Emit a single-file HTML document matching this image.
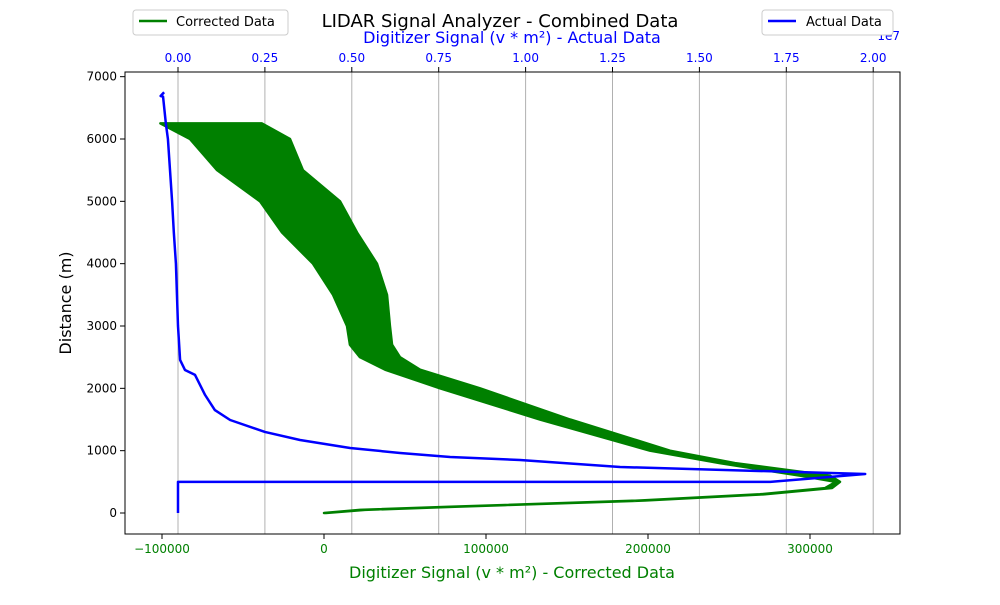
<!DOCTYPE html>
<html><head><meta charset="utf-8"><style>
body{margin:0;background:#fff;font-family:"Liberation Sans","DejaVu Sans",sans-serif}
</style></head><body>
<svg id="chart" width="1000" height="600" xmlns="http://www.w3.org/2000/svg" font-family="DejaVu Sans, Liberation Sans, sans-serif">
<rect width="1000" height="600" fill="#fff"/>
<g id="grid"></g>
<g id="series"></g>
<rect x="125" y="72" width="775" height="462" fill="none" stroke="#000" stroke-width="1"/>
<g id="axes" font-size="12"></g>
<text x="500" y="27" text-anchor="middle" font-size="18">LIDAR Signal Analyzer - Combined Data</text>
<text x="512" y="43" text-anchor="middle" font-size="16" fill="#0000ff">Digitizer Signal (v * m²) - Actual Data</text>
<text x="512" y="578" text-anchor="middle" font-size="16" fill="#008000">Digitizer Signal (v * m²) - Corrected Data</text>
<text x="71" y="303" text-anchor="middle" font-size="16" transform="rotate(-90 71 303)">Distance (m)</text>
<text x="900" y="40" text-anchor="end" font-size="12" fill="#0000ff">1e7</text>
<g>
<rect x="133" y="10" width="155" height="25" rx="3" fill="#fff" stroke="#ccc"/>
<line x1="139" y1="21" x2="167" y2="21" stroke="#008000" stroke-width="2.5"/>
<text x="176" y="26" font-size="13">Corrected Data</text>
</g>
<g>
<rect x="762" y="10" width="131" height="25" rx="3" fill="#fff" stroke="#ccc"/>
<line x1="768" y1="21" x2="796" y2="21" stroke="#0000ff" stroke-width="2.5"/>
<text x="806" y="26" font-size="13">Actual Data</text>
</g>
</svg>
<script>
const yTicks=[0,1000,2000,3000,4000,5000,6000,7000];
const bottomTicks=[-100000,0,100000,200000,300000];
const topTicks=[0,0.25,0.5,0.75,1.0,1.25,1.5,1.75,2.0];
const greenDist=[6250,6000,5500,5000,4500,4000,3500,3000,2700,2500,2300,2000,1500,1000,800,600,500,400,300,200,100,50,0];
const greenLo=[-101000,-82700,-66000,-39500,-25900,-6800,5600,14200,16000,22200,37700,71600,133300,201200,244400,293800,316000,309300,269100,195100,77800,22200,0];
const greenHi=[-38300,-21000,-13000,9900,20400,32700,38900,40700,42000,46900,59300,96300,151900,213600,253700,312300,318500,313600,272200,198100,80900,25300,1200];
const blueDist=[0,500,500,626,738,850,898,963,1043,1171,1300,1492,1652,1893,2215,2295,2455,3000,3500,4000,4500,5000,5500,6000,6250,6680,6690,6750];
const blueVal=[0,0,1.704,1.977,1.272,0.984,0.783,0.639,0.495,0.351,0.250,0.150,0.106,0.078,0.049,0.020,0.006,0,-0.003,-0.006,-0.012,-0.017,-0.023,-0.029,-0.035,-0.043,-0.05,-0.040];
const NS='http://www.w3.org/2000/svg';
const yS=d=>513-d*0.062333;
const xB=v=>324+v/100000*162;
const xT=a=>178+a*347.6;
function mk(tag,attrs,parent){const e=document.createElementNS(NS,tag);for(const k in attrs)e.setAttribute(k,attrs[k]);parent.appendChild(e);return e;}
const grid=document.getElementById('grid'),axes=document.getElementById('axes'),ser=document.getElementById('series');
topTicks.forEach(t=>{const x=xT(t);
const g=mk('line',{x1:x,x2:x,y1:72,y2:534,stroke:'#b0b0b0','stroke-width':1},grid);


mk('line',{x1:x,x2:x,y1:72,y2:67,stroke:'#000'},axes);
const tx=mk('text',{x:x,y:62,'text-anchor':'middle',fill:'#0000ff'},axes);tx.textContent=t.toFixed(2);

});
bottomTicks.forEach(t=>{const x=xB(t);
mk('line',{x1:x,x2:x,y1:534,y2:539,stroke:'#000'},axes);
const tx=mk('text',{x:x,y:553,'text-anchor':'middle',fill:'#008000'},axes);tx.textContent=(t<0?'−':'')+Math.abs(t);

});
yTicks.forEach(t=>{const y=yS(t);
mk('line',{x1:125,x2:120,y1:y,y2:y,stroke:'#000'},axes);
const tx=mk('text',{x:117,y:y+4,'text-anchor':'end'},axes);tx.textContent=t;

});
let pts=[];
greenDist.forEach((d,i)=>pts.push(xB(greenLo[i])+','+yS(d)));
for(let i=greenDist.length-1;i>=0;i--)pts.push(xB(greenHi[i])+','+yS(greenDist[i]));
const gp=mk('polygon',{points:pts.join(' '),fill:'#008000',stroke:'#008000','stroke-width':2.5,'stroke-linejoin':'round'},ser);


const bp=mk('polyline',{points:blueDist.map((d,i)=>xT(blueVal[i])+','+yS(d)).join(' '),fill:'none',stroke:'#0000ff','stroke-width':2.5,'stroke-linejoin':'round'},ser);


</script>
</body></html>
